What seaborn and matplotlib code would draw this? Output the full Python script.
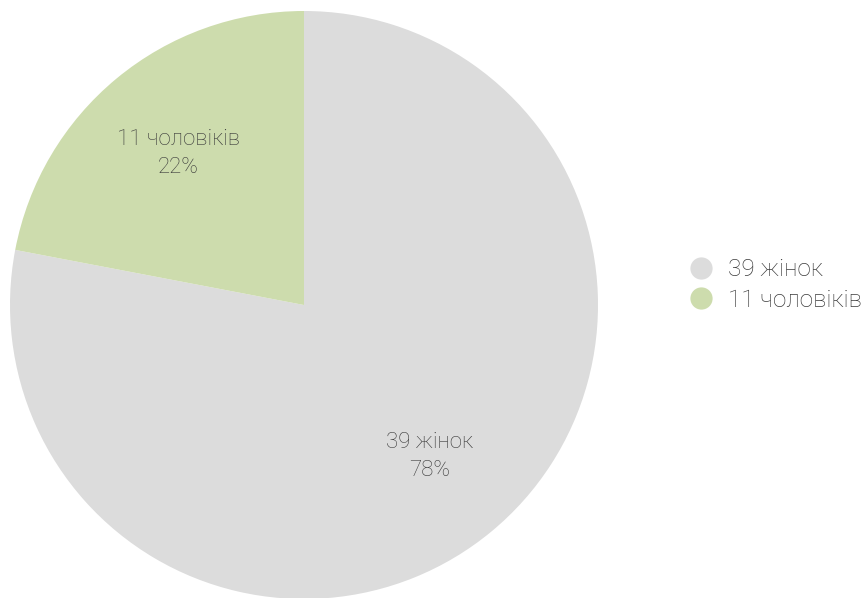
import matplotlib
matplotlib.use("Agg")
import matplotlib.pyplot as plt
from matplotlib.lines import Line2D
import seaborn as sns

labels = ["жінок", "чоловіків"]
counts = [39, 11]
colors = ["#dcdcdc", "#cddcad"]

sns.set_style("white")
plt.rcParams["font.family"] = ["Roboto", "DejaVu Sans"]

fig = plt.figure(figsize=(8.66, 5.98), dpi=100)
ax = fig.add_axes([10 / 866, -1 / 598, 588 / 866, 588 / 598])

total = sum(counts)
pie_labels = [f"{n} {lab}\n{round(100 * n / total)}%" for n, lab in zip(counts, labels)]
wedges, texts = ax.pie(
    counts,
    colors=colors,
    startangle=90,
    counterclock=False,
    labels=pie_labels,
    labeldistance=0.67,
    wedgeprops={"linewidth": 0},
    textprops={"fontsize": 16, "color": "#3a3a3a", "fontweight": "light"},
)
for t in texts:
    t.set_horizontalalignment("center")
    t.set_verticalalignment("center")
    t.set_linespacing(1.45)
ax.set_xlim(-1, 1)
ax.set_ylim(-1, 1)
ax.set_aspect("equal")
ax.axis("off")

handles = [
    Line2D([], [], marker="o", linestyle="", markersize=15,
           markerfacecolor=c, markeredgecolor=c)
    for c in colors
]
fig.legend(
    handles,
    [f"{n} {lab}" for n, lab in zip(counts, labels)],
    loc="center left",
    bbox_to_anchor=(667 / 866, 1 - 285 / 598),
    frameon=False,
    handletextpad=0.1,
    labelspacing=0.3,
    borderaxespad=0,
    prop={"size": 17.5, "weight": "light"},
    labelcolor="#3a3a3a",
)

fig.savefig("out.png", dpi=100)
